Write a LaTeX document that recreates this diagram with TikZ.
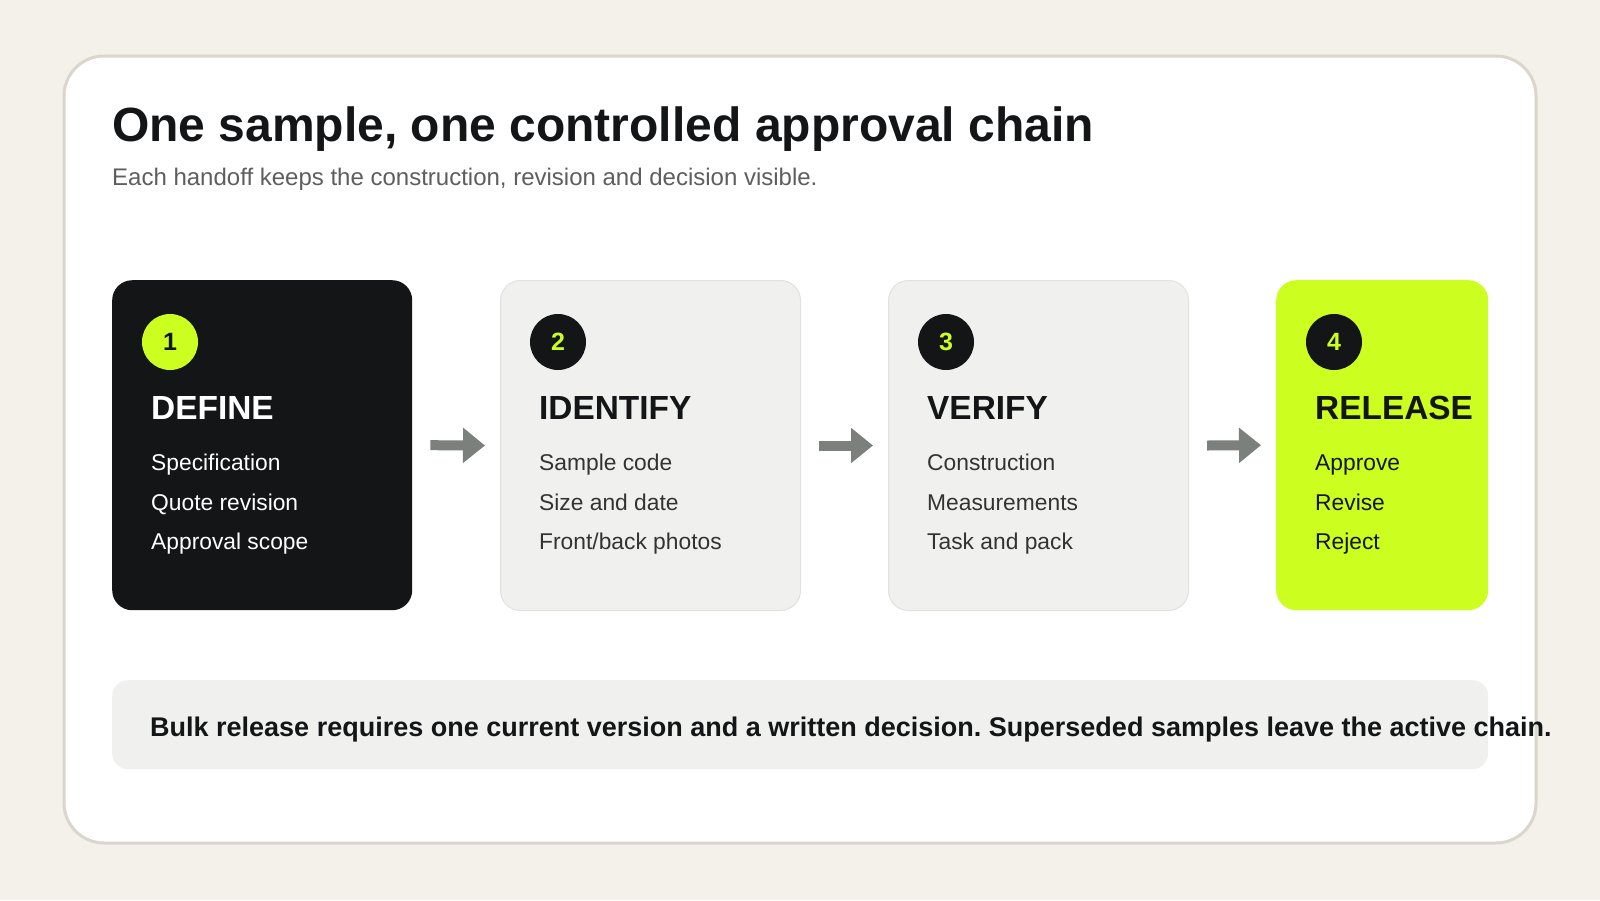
\documentclass[tikz,border=0pt]{standalone}
\usepackage{fontspec}
\setmainfont{Liberation Sans}
\usetikzlibrary{arrows.meta}
\frenchspacing
\definecolor{paper}{HTML}{F3F1EA}
\definecolor{framegrey}{HTML}{DAD6CB}
\definecolor{ink}{HTML}{131517}
\definecolor{lime}{HTML}{CCFF1F}
\definecolor{pale}{HTML}{F0F1EE}
\definecolor{paleline}{HTML}{E1E2DE}
\definecolor{arrowgrey}{HTML}{7B807C}
\definecolor{subgrey}{HTML}{5E5E5E}
\definecolor{itemgrey}{HTML}{333333}
\tikzset{
  card/.style={rectangle, rounded corners=20pt, minimum width=300pt, minimum height=330pt, anchor=north west, inner sep=0pt},
  badge/.style={circle, minimum size=56pt, inner sep=0pt, font=\fontsize{25}{25}\selectfont\bfseries},
  stage/.style={anchor=base west, inner sep=0pt, font=\fontsize{33.4}{33.4}\selectfont\bfseries},
  item/.style={anchor=base west, inner sep=0pt, font=\fontsize{22.8}{22.8}\selectfont},
  handoff/.style={-{Triangle[length=22pt,width=34pt]}, line width=10pt, draw=arrowgrey}
}
\begin{document}
\begin{tikzpicture}[x=1pt,y=-1pt]
  \fill[paper] (0,0) rectangle (1600,900);
  \useasboundingbox (0,0) rectangle (1600,900);
  \draw[line width=3pt, draw=framegrey, fill=white, rounded corners=40pt] (64,56) rectangle (1536,843);

  % heading
  \node[anchor=base west, inner sep=0pt, text=ink, font=\fontsize{48}{48}\selectfont\bfseries] (title) at (112,141) {One sample, one controlled approval chain};
  \node[anchor=base west, inner sep=0pt, text=subgrey, font=\fontsize{24}{24}\selectfont] (subtitle) at (112,185) {Each handoff keeps the construction, revision and decision visible.};

  % the four cards
  \node[card, fill=ink] (c1) at (112,280) {};
  \node[card, fill=pale, draw=paleline, line width=1pt] (c2) at (500,280) {};
  \node[card, fill=pale, draw=paleline, line width=1pt] (c3) at (888,280) {};
  \node[card, fill=lime, minimum width=212pt] (c4) at (1276,280) {};

  \node[badge, fill=lime, text=ink] (b1) at (170,342) {1};
  \node[badge, fill=ink, text=lime] (b2) at (558,342) {2};
  \node[badge, fill=ink, text=lime] (b3) at (946,342) {3};
  \node[badge, fill=ink, text=lime] (b4) at (1334,342) {4};

  \node[stage, text=white] (s1) at (151,419) {DEFINE};
  \node[stage, text=ink] (s2) at (539,419) {IDENTIFY};
  \node[stage, text=ink] (s3) at (927,419) {VERIFY};
  \node[stage, text=ink] (s4) at (1315,419) {RELEASE};

  \node[item, text=white] (d1) at (151,470) {Specification};
  \node[item, text=white] (d2) at (151,510) {Quote revision};
  \node[item, text=white] (d3) at (151,549) {Approval scope};
  \node[item, text=itemgrey] (i1) at (539,470) {Sample code};
  \node[item, text=itemgrey] (i2) at (539,510) {Size and date};
  \node[item, text=itemgrey] (i3) at (539,549) {Front/back photos};
  \node[item, text=itemgrey] (v1) at (927,470) {Construction};
  \node[item, text=itemgrey] (v2) at (927,510) {Measurements};
  \node[item, text=itemgrey] (v3) at (927,549) {Task and pack};
  \node[item, text=ink] (r1) at (1315,470) {Approve};
  \node[item, text=ink] (r2) at (1315,510) {Revise};
  \node[item, text=ink] (r3) at (1315,549) {Reject};

  % handoffs
  \draw[handoff] ([xshift=18pt]c1.east) -- ([xshift=-15pt]c2.west);
  \draw[handoff] ([xshift=18pt]c2.east) -- ([xshift=-15pt]c3.west);
  \draw[handoff] ([xshift=18pt]c3.east) -- ([xshift=-15pt]c4.west);

  % release rule
  \node[rectangle, rounded corners=16pt, fill=pale, anchor=north west, minimum width=1376pt, minimum height=89pt, inner sep=0pt] (rule) at (112,680) {};
  \node[anchor=base west, inner sep=0pt, text=ink, font=\fontsize{27}{27}\selectfont\bfseries] (ruletext) at (150,736) {Bulk release requires one current version and a written decision. Superseded samples leave the active chain.};
\end{tikzpicture}
\end{document}
